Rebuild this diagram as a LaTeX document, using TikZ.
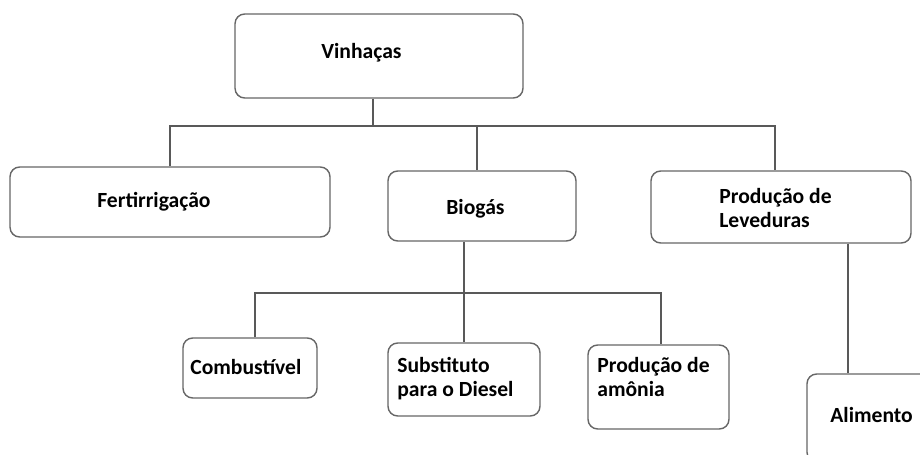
\documentclass[tikz,border=0pt]{standalone}
\usepackage{fontspec}
\setmainfont{Carlito}
\begin{document}
\begin{tikzpicture}[x=0.02cm,y=-0.02cm,
    caixa/.style={draw=black!60,line width=0.8pt,rounded corners=5.5pt,fill=white,inner sep=0pt},
    rotulo/.style={anchor=base west,inner sep=0pt,align=left,font=\fontsize{12.3}{14.2}\selectfont\bfseries},
    ligacao/.style={draw=black!65,line width=0.8pt}]
\useasboundingbox (0,0) rectangle (920,455);
\clip (0,0) rectangle (920,455);
\node[caixa,minimum width=5.76cm,minimum height=1.68cm] (vin) at (379,56) {};
\node[caixa,minimum width=6.4cm,minimum height=1.4cm] (fert) at (170,202) {};
\node[caixa,minimum width=3.76cm,minimum height=1.4cm] (bio) at (482,206) {};
\node[caixa,minimum width=5.2cm,minimum height=1.44cm] (lev) at (781,207) {};
\node[caixa,minimum width=2.68cm,minimum height=1.2cm] (comb) at (250,368) {};
\node[caixa,minimum width=3.04cm,minimum height=1.46cm] (sub) at (464,379.5) {};
\node[caixa,minimum width=2.82cm,minimum height=1.68cm] (amo) at (658.5,387) {};
\node[caixa,minimum width=2.66cm,minimum height=1.76cm] (ali) at (873.5,418) {};
\node[rotulo] (vin-t) at (321,59) {Vinhaças};
\node[rotulo] (fert-t) at (97,208) {Fertirrigação};
\node[rotulo] (bio-t) at (446,215) {Biogás};
\node[rotulo] (lev-t) at (719,228) {Produção de\\Leveduras};
\node[rotulo] (comb-t) at (190,375) {Combustível};
\node[rotulo] (sub-t) at (397,397) {Substituto\\para o Diesel};
\node[rotulo] (amo-t) at (597,397) {Produção de\\amônia};
\node[rotulo] (ali-t) at (830,423) {Alimento};
\coordinate (jv) at (373,126);
\coordinate (jb) at (477,126);
\coordinate (jl) at (775,126);
\draw[ligacao] (vin.south -| jv) -- (jv);
\draw[ligacao] (fert.north) |- (jl) -- (jl |- lev.north);
\draw[ligacao] (jb) -- (jb |- bio.north);
\coordinate (jc) at (255,293);
\coordinate (js) at (464,293);
\coordinate (ja) at (661,293);
\draw[ligacao] (bio.south -| js) -- (js) -- (sub.north);
\draw[ligacao] (jc |- comb.north) |- (ja) -- (ja |- amo.north);
\coordinate (jal) at (848,300);
\draw[ligacao] (lev.south -| jal) -- (ali.north -| jal);
\end{tikzpicture}
\end{document}
